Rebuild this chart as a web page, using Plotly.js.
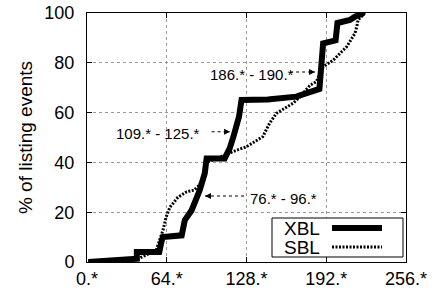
<!DOCTYPE html>
<html><head><meta charset="utf-8">
<script src="https://cdn.plot.ly/plotly-3.0.1.min.js"></script>
<style>html,body{margin:0;padding:0;background:#fff}#plot{width:438px;height:293px}</style>
</head><body><div id="plot"></div>
<script>
const xblX = [1, 40, 40, 58, 60, 61, 76, 78.5, 84, 90.5, 94.5, 96, 110.5, 114.5, 117.5, 120.5, 122, 124, 145, 168, 181.5, 186.5, 189.5, 199.5, 201, 211, 215, 222];
const xblY = [0, 1.3, 4, 4, 8.7, 10, 10.7, 16.8, 20.8, 28.9, 35.6, 41.6, 41.6, 45.6, 50.3, 55.7, 58.4, 65.1, 65.3, 66.4, 68.4, 69.5, 87.8, 89, 96, 97.2, 98.5, 100];
const sblX = [1, 41, 55.5, 58.5, 61, 63.5, 66.5, 73, 80, 86, 90.5, 94.5, 96, 104, 110.5, 117, 128, 141, 146.5, 152, 165.5, 171, 179, 184, 189.5, 197.5, 208.5, 215, 216.5, 217.5, 223];
const sblY = [0, 1.3, 4.7, 8.7, 12.8, 18, 22, 26, 28.2, 28.9, 31, 36, 40, 41.6, 43, 44.3, 46.3, 50.3, 55.7, 59.7, 63.8, 66.4, 71, 72.4, 78.4, 81, 86.5, 91.8, 94.5, 97.2, 100];
const xTickVals = [0, 64, 128, 192, 256];
const xTickText = ["0.*", "64.*", "128.*", "192.*", "256.*"];
const yTickVals = [0, 20, 40, 60, 80, 100];
const seriesNames = ["XBL", "SBL"];
const notes = [
  {text: "186.* - 190.*", tx: 132.8, ty: 75.5, x0: 163, x1: 183, y: 76.3},
  {text: "109.* - 125.*", tx: 57, ty: 51.8, x0: 100, x1: 114.8, y: 52.3},
  {text: "76.* - 96.*", tx: 157.3, ty: 25.6, x0: 126, x1: 94.7, y: 26.5}
];

const font = "Liberation Sans, Arial, Helvetica, sans-serif";
const data = [
  {x: xblX, y: xblY, name: seriesNames[0], mode: "lines", line: {color: "#000", width: 6}, showlegend: false},
  {x: sblX, y: sblY, name: seriesNames[1], mode: "lines", line: {color: "#000", width: 3, dash: "2px,1.5px"}, showlegend: false}
];
const shapes = [];
const annotations = [];
notes.forEach(n => {
  annotations.push({x: n.tx, y: n.ty, xref: "x", yref: "y", text: n.text, showarrow: false, font: {family: font, size: 15, color: "#000"}});
  shapes.push({type: "line", xref: "x", yref: "y", x0: n.x0, x1: n.x1, y0: n.y, y1: n.y, line: {color: "#000", width: 1, dash: "dot"}});
  const dir = n.x1 > n.x0 ? -1 : 1;
  annotations.push({x: n.x1, y: n.y, xref: "x", yref: "y", text: "", showarrow: true, arrowhead: 2, arrowsize: 1, arrowwidth: 1.2, arrowcolor: "#000", ax: dir * 7, ay: 0, standoff: 0});
});
// legend (manual, text left of line sample)
const px = v => (v - 87) / 319, py = v => (262 - v) / 249;
shapes.push({type: "rect", xref: "paper", yref: "paper", x0: px(272), x1: px(403), y0: py(257), y1: py(218), line: {color: "#000", width: 1}, fillcolor: "#fff"});
shapes.push({type: "line", xref: "paper", yref: "paper", x0: px(332), x1: px(382), y0: py(228), y1: py(228), line: {color: "#000", width: 6}});
shapes.push({type: "line", xref: "paper", yref: "paper", x0: px(332), x1: px(382), y0: py(247), y1: py(247), line: {color: "#000", width: 3, dash: "2px,1.5px"}});
annotations.push({xref: "paper", yref: "paper", x: px(282), y: py(228), xanchor: "left", yanchor: "middle", text: seriesNames[0], showarrow: false, font: {family: font, size: 19, color: "#000"}});
annotations.push({xref: "paper", yref: "paper", x: px(282), y: py(247), xanchor: "left", yanchor: "middle", text: seriesNames[1], showarrow: false, font: {family: font, size: 19, color: "#000"}});

const layout = {
  width: 438, height: 293,
  margin: {l: 87, r: 32, t: 13, b: 31, pad: 0},
  paper_bgcolor: "#fff", plot_bgcolor: "#fff",
  font: {family: font, size: 18, color: "#000"},
  xaxis: {range: [0, 256], tickvals: xTickVals, ticktext: xTickText, showgrid: true, gridcolor: "#999", griddash: "dot", gridwidth: 1,
    showline: true, linecolor: "#000", linewidth: 1, mirror: "ticks", ticks: "inside", ticklen: 5, tickcolor: "#000", zeroline: false,
    tickfont: {family: font, size: 18}, fixedrange: true},
  yaxis: {range: [0, 100], tickvals: yTickVals, showgrid: true, gridcolor: "#999", griddash: "dot", gridwidth: 1,
    showline: true, linecolor: "#000", linewidth: 1, mirror: "ticks", ticks: "inside", ticklen: 5, tickcolor: "#000", zeroline: false,
    tickfont: {family: font, size: 18}, ticklabelstandoff: 8,
    title: {text: "% of listing events", font: {family: font, size: 19}, standoff: 6}, fixedrange: true},
  shapes: shapes, annotations: annotations, showlegend: false
};
Plotly.newPlot("plot", data, layout, {staticPlot: true, displayModeBar: false});
</script></body></html>
